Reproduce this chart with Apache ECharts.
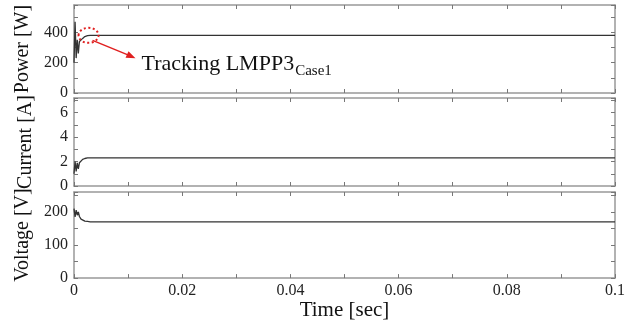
<!DOCTYPE html>
<html>
<head>
<meta charset="utf-8">
<script src="https://cdn.jsdelivr.net/npm/echarts@6/dist/echarts.min.js"></script>
<style>
  html, body { margin: 0; padding: 0; background: #fff; }
  #chart { width: 634px; height: 322px; }
</style>
</head>
<body>
<div id="chart"></div>
<script>
// time samples (sec) - start-up transient then steady state to 0.1 s
const time = [0, 0.0002, 0.0004, 0.0006, 0.0008, 0.001, 0.0013, 0.0016, 0.002, 0.0025, 0.003, 0.1];
const power = [200, 470, 230, 350, 260, 340, 335, 360, 372, 378, 380, 380];
const current = [1.0, 2.0, 1.2, 1.9, 1.4, 1.9, 2.05, 2.18, 2.25, 2.3, 2.3, 2.3];
const voltage = [210, 185, 205, 190, 200, 186, 178, 174, 172, 171, 170, 170];

const xTickLabels = ["0", "0.02", "0.04", "0.06", "0.08", "0.1"];
const panelNames = ["Power [W]", "Current [A]", "Voltage [V]"];
const yMax = [580, 7.2, 260];
const yStep = [100, 1, 50];
const yLabelStep = [200, 2, 100];

const chart = echarts.init(document.getElementById("chart"));

const gridTops = [5, 98, 192];
const boxColor = "#999";
const tickFont = { fontFamily: "Liberation Serif", fontSize: 16, color: "#222" };

const grids = gridTops.map((t) => ({ left: 74, right: 19, top: t, height: 88 }));

const xAxes = [];
const yAxes = [];
const series = [];
const values = [power, current, voltage];

gridTops.forEach((_, i) => {
  const last = i === 2;
  // bottom x axis
  xAxes.push({
    type: "value",
    gridIndex: i,
    min: 0,
    max: 0.1,
    interval: 0.01,
    position: "bottom",
    axisLine: { show: true, onZero: false, lineStyle: { color: boxColor, width: 1.5 } },
    axisTick: { show: true, inside: true, length: 4, lineStyle: { color: "#777" } },
    splitLine: { show: false },
    axisLabel: {
      show: last,
      margin: 5,
      ...tickFont,
      formatter: (v) => {
        const k = Math.round(v * 100);
        return k % 2 === 0 ? xTickLabels[k / 2] : "";
      },
    },
    name: last ? "Time [sec]" : "",
    nameLocation: "middle",
    nameGap: 18,
    nameTextStyle: { fontFamily: "Liberation Serif", fontSize: 21, color: "#111" },
  });
  // top x axis (ticks only)
  xAxes.push({
    type: "value",
    gridIndex: i,
    min: 0,
    max: 0.1,
    interval: 0.01,
    position: "top",
    axisLine: { show: true, onZero: false, lineStyle: { color: boxColor, width: 1.5 } },
    axisTick: { show: true, inside: true, length: 4, lineStyle: { color: "#777" } },
    axisLabel: { show: false },
    splitLine: { show: false },
  });
  // left y axis
  yAxes.push({
    type: "value",
    gridIndex: i,
    min: 0,
    max: yMax[i],
    interval: yStep[i],
    position: "left",
    axisLine: { show: true, onZero: false, lineStyle: { color: boxColor, width: 1.5 } },
    axisTick: { show: true, inside: true, length: 4, lineStyle: { color: "#777" } },
    splitLine: { show: false },
    axisLabel: {
      margin: 6,
      ...tickFont,
      formatter: (v) => {
        const r = v / yLabelStep[i];
        return Math.abs(r - Math.round(r)) < 1e-6 ? String(v) : "";
      },
    },
    name: panelNames[i],
    nameLocation: "middle",
    nameGap: 38,
    nameTextStyle: { fontFamily: "Liberation Serif", fontSize: 20, color: "#111" },
  });
  // right y axis (ticks only)
  yAxes.push({
    type: "value",
    gridIndex: i,
    min: 0,
    max: yMax[i],
    interval: yStep[i],
    position: "right",
    axisLine: { show: true, onZero: false, lineStyle: { color: boxColor, width: 1.5 } },
    axisTick: { show: true, inside: true, length: 4, lineStyle: { color: "#777" } },
    axisLabel: { show: false },
    splitLine: { show: false },
  });

  series.push({
    type: "line",
    xAxisIndex: i * 2,
    yAxisIndex: i * 2,
    data: time.map((t, j) => [t, values[i][j]]),
    showSymbol: false,
    lineStyle: { color: "#333", width: 1.3 },
    animation: false,
  });
});

chart.setOption({
  animation: false,
  grid: grids,
  xAxis: xAxes,
  yAxis: yAxes,
  series: series,
});

// annotation around the tracked point on the power trace
const p = chart.convertToPixel({ xAxisIndex: 0, yAxisIndex: 0 }, [0.0025, 380]);
chart.setOption({
  graphic: [
    {
      type: "ellipse",
      shape: { cx: p[0] + 1, cy: p[1], rx: 10, ry: 7.5 },
      style: { fill: "none", stroke: "#e02020", lineWidth: 2, lineDash: [2, 2.5] },
      z: 10,
    },
    {
      type: "line",
      shape: { x1: p[0] + 5, y1: p[1] + 5, x2: p[0] + 44, y2: p[1] + 21 },
      style: { stroke: "#e02020", lineWidth: 1.5 },
      z: 10,
    },
    {
      type: "polygon",
      shape: {
        points: [
          [p[0] + 48, p[1] + 23],
          [p[0] + 38, p[1] + 22.5],
          [p[0] + 41, p[1] + 16],
        ],
      },
      style: { fill: "#e02020" },
      z: 10,
    },
    {
      type: "text",
      left: p[0] + 54,
      top: p[1] + 18,
      style: {
        text: "{m|Tracking LMPP3}{s|Case1}",
        rich: {
          m: { fontFamily: "Liberation Serif", fontSize: 22, fill: "#111", verticalAlign: "bottom" },
          s: { fontFamily: "Liberation Serif", fontSize: 15, fill: "#111", verticalAlign: "bottom", padding: [0, 0, -3, 1] },
        },
      },
      z: 10,
    },
  ],
});
</script>
</body>
</html>
